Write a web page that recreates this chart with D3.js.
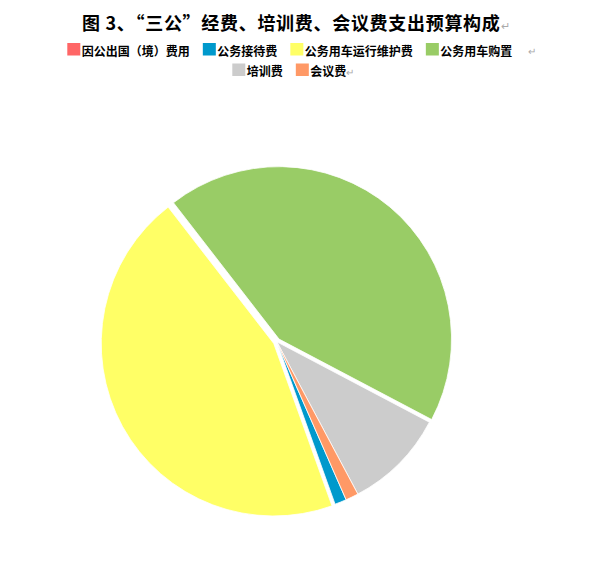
<!DOCTYPE html>
<html>
<head>
<meta charset="utf-8">
<script src="https://cdn.jsdelivr.net/npm/d3@7"></script>
<style>
  body { margin: 0; background: #fff; }
  svg { display: block; font-family: "Noto Sans CJK SC", "Noto Sans", sans-serif; }
</style>
</head>
<body>
<div id="chart"></div>
<script>
// data (share of budget, %)
const categories = ["因公出国（境）费用", "公务接待费", "公务用车运行维护费", "公务用车购置", "培训费", "会议费"];
const values = [0, 1.1, 45.0, 43.2, 9.5, 1.2];
const colors = ["#FF6666", "#0099CC", "#FFFF66", "#99CC66", "#CCCCCC", "#FF9966"];
const exploded = [false, false, true, true, false, false];
const title = "图 3、“三公”经费、培训费、会议费支出预算构成";

const width = 605, height = 573;
const center = {x: 276.8, y: 341.8};
const radius = 172.5;
const explodeDist = 3.5;
const startDeg = 156.3;

const svg = d3.select("#chart").append("svg")
    .attr("width", width)
    .attr("height", height);

// title (a little letter spacing to reach the original width)
const titleText = svg.append("text")
    .attr("x", 82)
    .attr("y", 30)
    .style("font-size", "18px")
    .style("font-weight", "bold")
    .style("letter-spacing", "0.7px")
    .attr("fill", "#000")
    .text(title);
titleText.append("tspan")
    .attr("fill", "#aaa")
    .style("font-weight", "normal")
    .style("font-size", "11px")
    .style("letter-spacing", "0px")
    .text("↵");

// legend, two rows like the original
const legendRows = [
    {items: [0, 1, 2, 3], x: 67.3, y: 43},
    {items: [4, 5], x: 232.3, y: 63.5}
];
legendRows.forEach(row => {
    let x = row.x;
    const g = svg.append("g").attr("class", "legendRow");
    row.items.forEach((i, k) => {
        g.append("rect")
            .attr("x", x)
            .attr("y", row.y)
            .attr("width", 13)
            .attr("height", 12.5)
            .attr("fill", colors[i]);
        const t = g.append("text")
            .attr("x", x + 14.5)
            .attr("y", row.y + 12.5)
            .style("font-size", "12px")
            .style("font-weight", "bold")
            .attr("fill", "#000")
            .text(categories[i]);
        const w = t.node().getComputedTextLength();
        x = x + 14.5 + w + 13;
        if (k == row.items.length - 1) {
            g.append("text")
                .attr("x", row.items.length == 4 ? x + 3 : x - 13)
                .attr("y", row.y + 12)
                .style("font-size", "10px")
                .attr("fill", "#aaa")
                .text("↵");
        }
    });
});

// pie
const pie = d3.pie()
    .sort(null)
    .value(d => d.value)
    .startAngle(startDeg * Math.PI / 180)
    .endAngle(startDeg * Math.PI / 180 + 2 * Math.PI);

const arc = d3.arc().innerRadius(0).outerRadius(radius);

const pieData = pie(values.map((v, i) => ({value: v, index: i})));

const pieG = svg.append("g")
    .attr("class", "pieG")
    .attr("transform", "translate(" + center.x + "," + center.y + ")");

pieG.selectAll(".slice")
    .data(pieData.filter(d => d.data.value > 0))
    .join("path")
    .attr("class", "slice")
    .attr("d", arc)
    .attr("fill", d => colors[d.data.index])
    .attr("stroke", "#fff")
    .attr("stroke-width", 0.8)
    .attr("transform", d => {
        if (!exploded[d.data.index]) return null;
        const mid = (d.startAngle + d.endAngle) / 2;
        return "translate(" + (Math.sin(mid) * explodeDist) + "," + (-Math.cos(mid) * explodeDist) + ")";
    });
</script>
</body>
</html>
